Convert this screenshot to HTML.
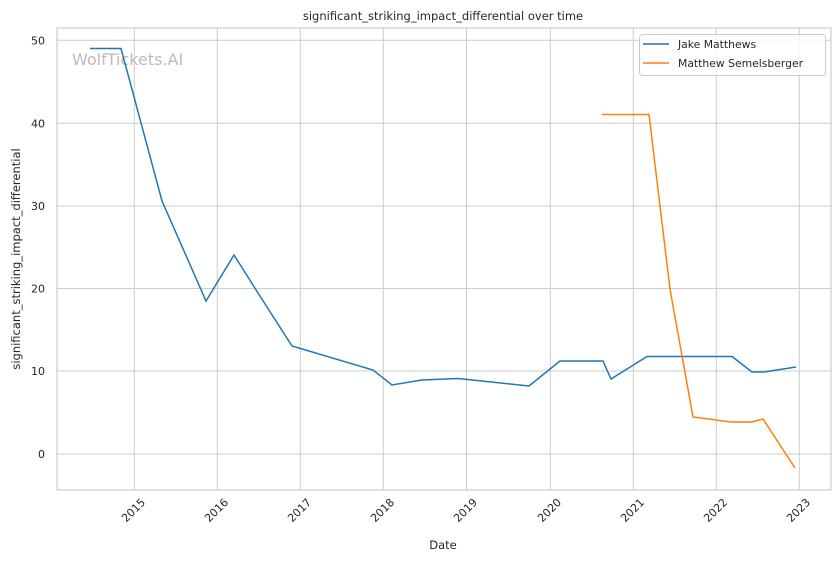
<!DOCTYPE html>
<html><head><meta charset="utf-8"><style>body{margin:0;background:#fff}svg{display:block}text{font-family:"DejaVu Sans","Liberation Sans",sans-serif;fill:#262626}</style></head>
<body>
<svg width="840" height="561" viewBox="0 0 840 561" xmlns="http://www.w3.org/2000/svg">
<rect width="840" height="561" fill="#fff"/>
<g stroke="#cccccc" stroke-width="1">
<line x1="134.3" y1="28" x2="134.3" y2="490"/><line x1="217.3" y1="28" x2="217.3" y2="490"/><line x1="300.3" y1="28" x2="300.3" y2="490"/><line x1="383.3" y1="28" x2="383.3" y2="490"/><line x1="466.5" y1="28" x2="466.5" y2="490"/><line x1="550.3" y1="28" x2="550.3" y2="490"/><line x1="633.3" y1="28" x2="633.3" y2="490"/><line x1="716.3" y1="28" x2="716.3" y2="490"/><line x1="799.3" y1="28" x2="799.3" y2="490"/>
<line x1="57" y1="40.3" x2="831" y2="40.3"/><line x1="57" y1="123.3" x2="831" y2="123.3"/><line x1="57" y1="206" x2="831" y2="206"/><line x1="57" y1="288.5" x2="831" y2="288.5"/><line x1="57" y1="371" x2="831" y2="371"/><line x1="57" y1="454" x2="831" y2="454"/>
</g>
<rect x="57" y="28" width="774" height="462" fill="none" stroke="#cccccc" stroke-width="1.2"/>
<text x="72" y="65" font-size="16" style="fill:#bbbbbb">WolfTickets.AI</text>
<polyline fill="none" stroke="#1f77b4" stroke-width="1.5" points="90,48.5 121,48.5 162,201 206,301 234,255 258,293 292,346 373,370 392,385 422,380 458,378.5 529,386 560,361 603,361 611,379 647,356.5 732,356.5 752,372 764,372 796,367"/>
<polyline fill="none" stroke="#ff7f0e" stroke-width="1.5" points="602,114.5 649,114.5 670,289 693,417 731,422 752,422 763,419 795,468"/>
<g font-size="11" text-anchor="end">
<text x="45" y="458">0</text><text x="45" y="375">10</text><text x="45" y="292.5">20</text><text x="45" y="210">30</text><text x="45" y="127.3">40</text><text x="45" y="44.3">50</text>
</g>
<g font-size="11" text-anchor="end">
<text transform="translate(146,503) rotate(-45)">2015</text><text transform="translate(229,503) rotate(-45)">2016</text><text transform="translate(312,503) rotate(-45)">2017</text><text transform="translate(395,503) rotate(-45)">2018</text><text transform="translate(478,503) rotate(-45)">2019</text><text transform="translate(562,503) rotate(-45)">2020</text><text transform="translate(645,503) rotate(-45)">2021</text><text transform="translate(728,503) rotate(-45)">2022</text><text transform="translate(811,503) rotate(-45)">2023</text>
</g>
<text x="443" y="549" font-size="11.5" text-anchor="middle">Date</text>
<text transform="translate(20,259) rotate(-90)" font-size="11.5" text-anchor="middle">significant_striking_impact_differential</text>
<text x="443" y="20" font-size="11.5" text-anchor="middle">significant_striking_impact_differential over time</text>
<rect x="639.5" y="34.5" width="186" height="41" rx="3" fill="#fff" fill-opacity="0.8" stroke="#cccccc"/>
<line x1="643" y1="44" x2="669" y2="44" stroke="#1f77b4" stroke-width="1.5"/>
<line x1="643" y1="63" x2="669" y2="63" stroke="#ff7f0e" stroke-width="1.5"/>
<text x="678" y="48" font-size="10.8">Jake Matthews</text>
<text x="678" y="67" font-size="10.8">Matthew Semelsberger</text>
</svg>
</body></html>
